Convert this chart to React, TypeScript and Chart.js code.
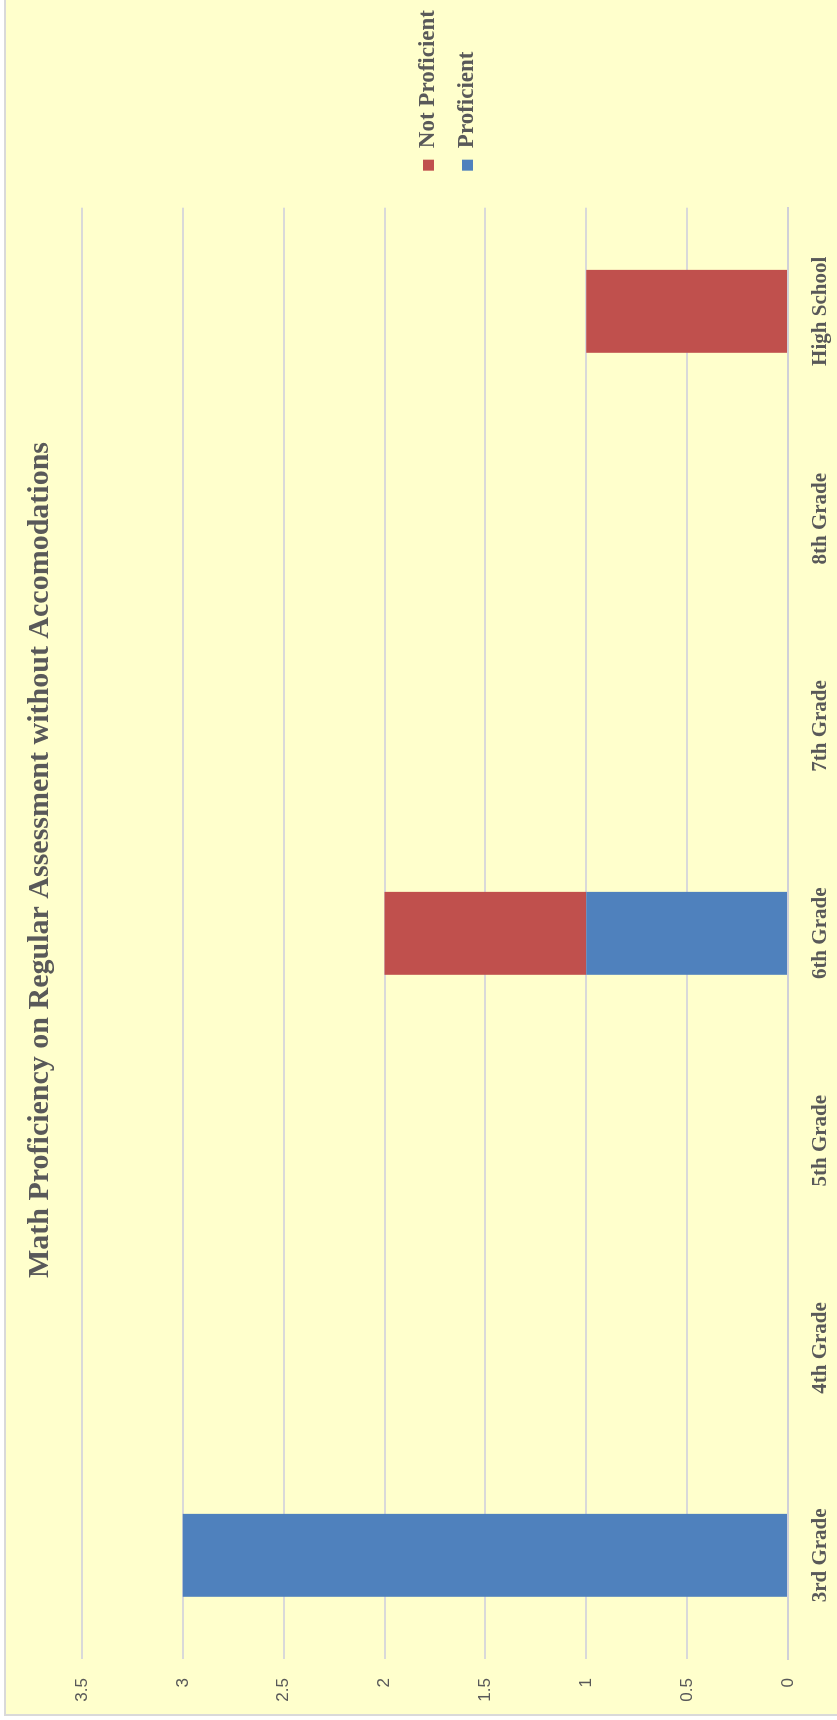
import React, { useEffect, useRef } from "react";
import { Chart, registerables } from "chart.js";

Chart.register(...registerables);

// ---- data ----
const categories = ["3rd Grade", "4th Grade", "5th Grade", "6th Grade", "7th Grade", "8th Grade", "High School"];
const proficient = [3, 0, 0, 1, 0, 0, 0];
const notProficient = [0, 0, 0, 1, 0, 0, 1];
const seriesLabels = ["Proficient", "Not Proficient"];
const seriesColors = ["#4F81BD", "#C0504D"];
const valueMin = 0;
const valueMax = 3.5;
const valueStep = 0.5;
const titleText = "Math Proficiency on Regular Assessment without Accomodations";

// ---- layout (unrotated chart size) ----
const W = 1720;
const H = 896;
const SERIF = "'Liberation Serif', 'Times New Roman', serif";
const SANS = "'Liberation Sans', Arial, sans-serif";
const TEXT = "#595959";

const backgroundPlugin = {
  id: "bgFrame",
  beforeDraw(chart: any) {
    const { ctx, width, height } = chart;
    ctx.save();
    ctx.fillStyle = "#ffffff";
    ctx.fillRect(0, 0, width, height);
    ctx.fillStyle = "#FFFFCC";
    ctx.fillRect(5, 5, width, height);
    ctx.strokeStyle = "#d9d9d9";
    ctx.lineWidth = 2;
    ctx.beginPath();
    ctx.moveTo(5, height);
    ctx.lineTo(5, 5);
    ctx.lineTo(width, 5);
    ctx.stroke();
    ctx.restore();
  },
};

export default function App() {
  const ref = useRef<HTMLCanvasElement | null>(null);

  useEffect(() => {
    if (!ref.current) return;
    const chart = new Chart(ref.current, {
      type: "bar",
      data: {
        labels: categories,
        datasets: [
          {
            label: seriesLabels[0],
            data: proficient,
            backgroundColor: seriesColors[0],
            borderWidth: 0,
            categoryPercentage: 0.4,
            barPercentage: 1,
          },
          {
            label: seriesLabels[1],
            data: notProficient,
            backgroundColor: seriesColors[1],
            borderWidth: 0,
            categoryPercentage: 0.4,
            barPercentage: 1,
          },
        ],
      },
      options: {
        responsive: false,
        animation: false,
        layout: { padding: 0 },
        scales: {
          x: {
            stacked: true,
            grid: { display: false },
            border: { display: true, color: "#d0d0d8", width: 2 },
            ticks: {
              font: { family: SERIF, size: 21, weight: "bold" },
              color: TEXT,
              padding: 12,
              maxRotation: 0,
              autoSkip: false,
            },
            afterFit: (s: any) => {
              s.height = 108;
            },
          },
          y: {
            stacked: true,
            min: valueMin,
            max: valueMax,
            ticks: {
              stepSize: valueStep,
              font: { family: SANS, size: 17 },
              color: TEXT,
              padding: 19,
              callback: (v: any) => String(Number(v)),
            },
            grid: { color: "#d9d9d9", lineWidth: 2, drawTicks: false },
            border: { display: false },
            afterFit: (s: any) => {
              s.width = 61;
            },
          },
          gap: {
            type: "linear",
            position: "right",
            display: true,
            grid: { display: false },
            ticks: { display: false },
            border: { display: false },
            afterFit: (s: any) => {
              s.width = 21;
            },
          },
        },
        plugins: {
          title: {
            display: true,
            text: titleText,
            font: { family: SERIF, size: 30, weight: "bold" },
            color: TEXT,
            padding: { top: 22, bottom: 24 },
          },
          legend: {
            position: "right",
            reverse: true,
            maxWidth: 189,
            labels: {
              boxWidth: 11,
              boxHeight: 11,
              padding: 16,
              font: { family: SERIF, size: 23, weight: "bold" },
              color: TEXT,
            },
          },
          tooltip: { enabled: false },
        },
      } as any,
      plugins: [backgroundPlugin],
    });
    return () => chart.destroy();
  }, []);

  return (
    <div
      style={{
        position: "absolute",
        left: 0,
        top: 0,
        width: 837,
        height: 1720,
        overflow: "hidden",
        background: "#ffffff",
      }}
    >
      <div
        style={{
          position: "absolute",
          left: 0,
          top: 0,
          width: W,
          height: H,
          transformOrigin: "0 0",
          transform: `translateY(${W}px) rotate(-90deg)`,
        }}
      >
        <canvas ref={ref} width={W} height={H} style={{ display: "block", width: W, height: H }} />
      </div>
    </div>
  );
}
